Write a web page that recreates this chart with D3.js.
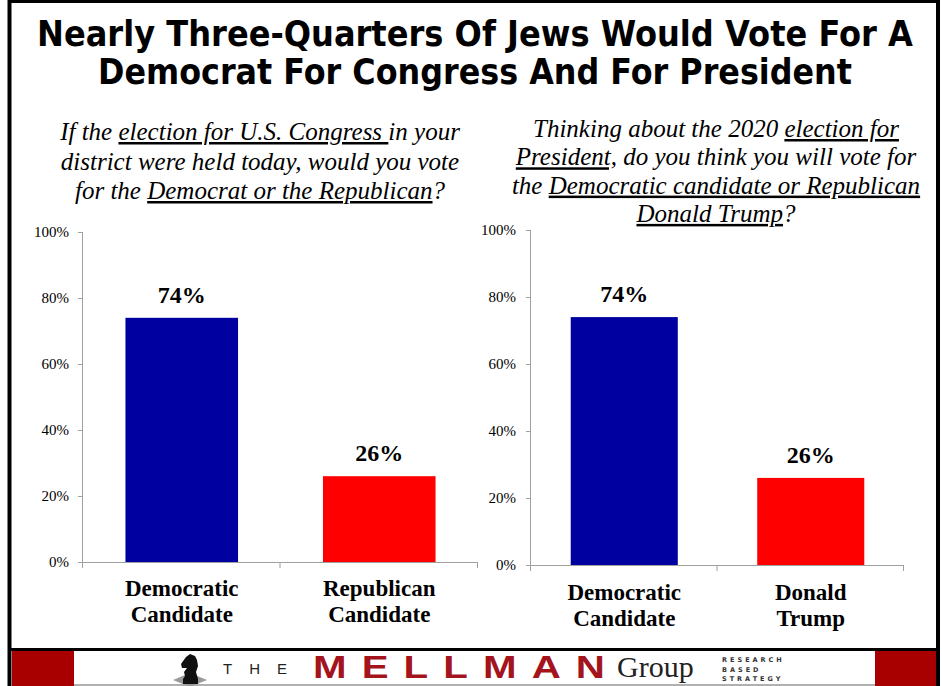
<!DOCTYPE html>
<html><head><meta charset="utf-8">
<script src="https://cdn.jsdelivr.net/npm/d3@7"></script>
<style>
html,body{margin:0;padding:0;background:#fff;}
svg{display:block;}
.serif{font-family:'Liberation Serif','Times New Roman',Times,serif;}
</style></head>
<body>
<svg id="c" width="942" height="686"></svg>
<script>
// ---- data ----
const titleLines = ["Nearly Three-Quarters Of Jews Would Vote For A", "Democrat For Congress And For President"];
const congressCategories = [["Democratic","Candidate"],["Republican","Candidate"]];
const congressValues = [0.74, 0.26];
const presidentCategories = [["Democratic","Candidate"],["Donald","Trump"]];
const presidentValues = [0.74, 0.26];
const yTicks = [0, 0.2, 0.4, 0.6, 0.8, 1.0];
const barColors = ["#0000a0", "#ff0000"];
const congressQuestion = [
  [{t:"If the "},{t:"election for U.S. Congress ",u:1},{t:"in your"}],
  [{t:"district were held today, would you vote"}],
  [{t:"for the "},{t:"Democrat or the Republican",u:1},{t:"?"}]
];
const presidentQuestion = [
  [{t:"Thinking about the 2020 "},{t:"election for",u:1}],
  [{t:"President,",u:1},{t:" do you think you will vote for"}],
  [{t:"the "},{t:"Democratic candidate or Republican",u:1}],
  [{t:"Donald Trump",u:1},{t:"?"}]
];

const svg = d3.select("#c");
svg.append("rect").attr("x",0).attr("y",0).attr("width",942).attr("height",686).attr("fill","#fff");

// ---- title (horizontally condensed to the reference width) ----
const titleWidths = [876, 754];
svg.append("g").selectAll("text").data(titleLines).join("text")
  .attr("text-anchor","middle")
  .style("font-family","'DejaVu Sans', sans-serif")
  .attr("font-weight","bold").attr("font-size",35)
  .attr("fill","#000")
  .text(d=>d)
  .each(function(d,i){
    const w = this.getComputedTextLength();
    d3.select(this).attr("transform",`translate(475,${46+i*38}) scale(${titleWidths[i]/w},1)`);
  });

// ---- question text ----
function question(lines, cx, y0, lh){
  const g = svg.append("g");
  lines.forEach((segs,i)=>{
    const t = g.append("text").attr("class","serif").attr("x",cx).attr("y",y0+i*lh)
      .attr("text-anchor","middle")
      .attr("font-style","italic").attr("font-size",25).attr("fill","#000")
      .attr("xml:space","preserve");
    segs.forEach(s=>{
      const sp = t.append("tspan").text(s.t);
      if(s.u) sp.style("text-decoration","underline");
    });
  });
}
question(congressQuestion, 260, 140, 29.5);
question(presidentQuestion, 716, 137, 28.3);

// ---- chart builder ----
function chart(cfg){
  const g = svg.append("g");
  const x = d3.scaleBand().domain(cfg.cats.map((d,i)=>i)).range([cfg.x0,cfg.x1])
    .paddingInner(cfg.pad).paddingOuter(cfg.pad/2);
  const y = d3.scaleLinear().domain([0,1]).range([cfg.y0,cfg.y1]);

  const ya = g.append("g").attr("transform",`translate(${cfg.x0},0)`)
    .call(d3.axisLeft(y).tickValues(yTicks).tickFormat(d3.format(".0%")).tickSize(5).tickPadding(cfg.tp));
  ya.attr("font-family",null).attr("font-size",null);
  ya.select(".domain").attr("stroke","#a0a0a0").attr("d",`M-0.5,${cfg.y1}V${cfg.y0+6}`);
  ya.selectAll(".tick line").attr("stroke","#a0a0a0");
  ya.selectAll(".tick text").attr("class","serif").attr("font-size",15).attr("fill","#000");

  g.selectAll("rect.bar").data(cfg.vals).join("rect").attr("class","bar")
    .attr("x",(d,i)=>x(i)).attr("width",x.bandwidth())
    .attr("y",d=>y(d)).attr("height",d=>y(0)-y(d))
    .attr("fill",(d,i)=>barColors[i]);

  g.append("line").attr("x1",cfg.x0).attr("x2",cfg.x1).attr("y1",y(0)+0.5).attr("y2",y(0)+0.5)
    .attr("stroke","#a0a0a0");
  const bounds = d3.range(cfg.cats.length+1).map(i=> cfg.x0 + i*x.step());
  g.selectAll("line.ct").data(bounds).join("line").attr("class","ct")
    .attr("x1",d=>d-0.5).attr("x2",d=>d-0.5).attr("y1",y(0)).attr("y2",y(0)+6)
    .attr("stroke","#a0a0a0");

  g.selectAll("text.val").data(cfg.vals).join("text").attr("class","val serif")
    .attr("x",(d,i)=>x(i)+x.bandwidth()/2).attr("y",d=>y(d)-15)
    .attr("text-anchor","middle")
    .attr("font-weight","bold").attr("font-size",24)
    .text(d=>d3.format(".0%")(d));

  cfg.cats.forEach((lines,i)=>{
    const t = g.append("text").attr("class","serif").attr("text-anchor","middle")
      .attr("font-weight","bold").attr("font-size",23);
    lines.forEach((l,j)=> t.append("tspan").attr("x",x(i)+x.bandwidth()/2)
      .attr("y",cfg.ly + j*26).text(l));
  });
}

chart({cats:congressCategories, vals:congressValues, x0:83, x1:478, y0:562, y1:232, pad:0.43, tp:9, ly:596});
chart({cats:presidentCategories, vals:presidentValues, x0:531, x1:904, y0:565, y1:230, pad:0.426, tp:10, ly:600});

// ---- footer ----
const f = svg.append("g");
f.append("rect").attr("x",12).attr("y",651).attr("width",62).attr("height",35).attr("fill","#a80000");
f.append("rect").attr("x",875).attr("y",651).attr("width",61).attr("height",35).attr("fill","#a80000");
f.append("line").attr("x1",74).attr("x2",875).attr("y1",685).attr("y2",685).attr("stroke","#b0b0b0").attr("stroke-width",2);
f.append("path").attr("d","M173,680 L190,673 L207,680 L190,687 Z").attr("fill","#9a9a9a");
f.append("path").attr("d","M183,684 L183,679 L185,676 L184,672 L187,668 L182,668 L181,664 L186,657 L190,654 L195,656 L197,660 L198,666 L196,672 L198,679 L198,684 Z").attr("fill","#111");
f.append("text").attr("x",223).attr("y",674).style("font-family","'Liberation Sans',Arial,sans-serif")
  .attr("font-size",15).attr("letter-spacing",17).attr("fill","#222").text("THE");
const mell = f.append("text").style("font-family","'Liberation Sans',Arial,sans-serif")
  .attr("font-weight","bold").attr("font-size",31).attr("fill","#a3141c").text("MELLMAN");
{
  const sx = 1.3;
  const w = mell.node().getComputedTextLength();
  const ls = (292/sx - w)/6;
  mell.attr("letter-spacing", ls).attr("transform",`translate(313,678) scale(${sx},1)`);
}
f.append("text").attr("class","serif").attr("x",617).attr("y",677)
  .attr("font-size",30).attr("fill","#222").text("Group");
["RESEARCH","BASED","STRATEGY"].forEach((s,i)=>{
  f.append("text").attr("x",722).attr("y",662+i*9.5).style("font-family","'DejaVu Sans',sans-serif")
    .attr("font-weight","bold").attr("font-size",6.5).attr("letter-spacing",3).attr("fill","#333").text(s);
});

// borders
svg.append("line").attr("x1",9.5).attr("x2",9.5).attr("y1",0).attr("y2",686).attr("stroke","#000").attr("stroke-width",4);
svg.append("line").attr("x1",938).attr("x2",938).attr("y1",0).attr("y2",686).attr("stroke","#000").attr("stroke-width",4);
svg.append("line").attr("x1",8).attr("x2",940).attr("y1",1.5).attr("y2",1.5).attr("stroke","#000").attr("stroke-width",3);
svg.append("line").attr("x1",8).attr("x2",940).attr("y1",649.5).attr("y2",649.5).attr("stroke","#000").attr("stroke-width",3);
</script>
</body></html>
